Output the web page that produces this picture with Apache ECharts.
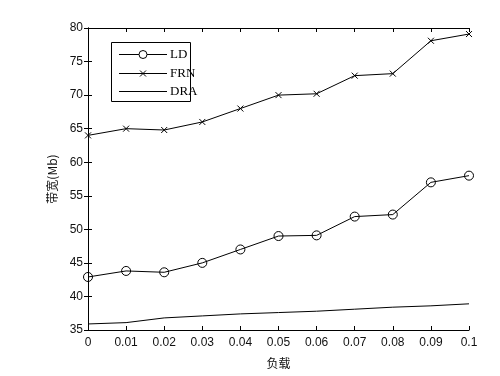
<!DOCTYPE html>
<html><head><meta charset="utf-8">
<script src="https://cdn.jsdelivr.net/npm/echarts@6/dist/echarts.min.js"></script>
<style>html,body{margin:0;padding:0;background:#fff}#c{width:500px;height:376px}</style>
</head><body><div id="c"></div>
<script>
const xValues = [0, 0.01, 0.02, 0.03, 0.04, 0.05, 0.06, 0.07, 0.08, 0.09, 0.1];
const ldValues = [42.9, 43.8, 43.6, 45.0, 47.0, 49.0, 49.1, 51.9, 52.2, 57.0, 58.0];
const frnValues = [64.0, 65.0, 64.8, 66.0, 68.0, 70.0, 70.2, 72.9, 73.2, 78.1, 79.1];
const draValues = [35.9, 36.1, 36.8, 37.1, 37.4, 37.6, 37.8, 38.1, 38.4, 38.6, 38.9];
const seriesNames = ['LD', 'FRN', 'DRA'];
const xName = '负载';
const yName = '带宽(Mb)';

const pairs = v => xValues.map((x, i) => [x, v[i]]);
const labelFont = {fontFamily: 'Liberation Sans', fontSize: 12, color: '#111'};
const chart = echarts.init(document.getElementById('c'), null, {renderer: 'canvas'});
const xMark = 'path://M0,0L10,10M10,0L0,10';
const stroke = {stroke: '#000', lineWidth: 1};
const lg = {x: 111, y: 42, w: 79, h: 59, lx1: 119, lx2: 167, tx: 170, rows: [54, 72.5, 91]};
const legendGraphics = [
  {type: 'rect', shape: {x: lg.x + 0.5, y: lg.y + 0.5, width: lg.w, height: lg.h}, style: {fill: '#fff', stroke: '#000', lineWidth: 1}, z: 100}
];
seriesNames.forEach((n, i) => {
  const y = Math.round(lg.rows[i]) + 0.5;
  legendGraphics.push({type: 'line', shape: {x1: lg.lx1, y1: y, x2: lg.lx2, y2: y}, style: stroke, z: 101});
  legendGraphics.push({type: 'text', x: lg.tx, y: y, style: {text: n, fill: '#000', font: '13px "Liberation Serif"', textVerticalAlign: 'middle'}, z: 101});
});
const cx = (lg.lx1 + lg.lx2) / 2;
legendGraphics.push({type: 'circle', shape: {cx: cx, cy: Math.round(lg.rows[0]) + 0.5, r: 4}, style: {fill: '#fff', stroke: '#000', lineWidth: 1}, z: 102});
const fy = Math.round(lg.rows[1]) + 0.5;
legendGraphics.push({type: 'polyline', shape: {points: [[cx - 3, fy - 3], [cx + 3, fy + 3]]}, style: stroke, z: 102});
legendGraphics.push({type: 'polyline', shape: {points: [[cx + 3, fy - 3], [cx - 3, fy + 3]]}, style: stroke, z: 102});

chart.setOption({
  animation: false,
  backgroundColor: '#fff',
  grid: {left: 88, right: 31, top: 28, bottom: 46},
  graphic: legendGraphics,
  xAxis: [{
    type: 'value', min: 0, max: 0.1, interval: 0.01, position: 'bottom',
    name: xName, nameLocation: 'middle', nameGap: 27,
    nameTextStyle: {fontFamily: 'Noto Sans CJK SC', fontSize: 12, color: '#111'},
    axisLine: {show: true, lineStyle: {color: '#000', width: 1}},
    axisTick: {inside: true, length: 4, lineStyle: {color: '#000'}},
    axisLabel: Object.assign({margin: 7}, labelFont),
    splitLine: {show: false}
  }, {
    type: 'value', min: 0, max: 0.1, interval: 0.01, position: 'top',
    axisLine: {show: true, lineStyle: {color: '#000', width: 1}},
    axisTick: {inside: true, length: 4, lineStyle: {color: '#000'}},
    axisLabel: {show: false}, splitLine: {show: false}
  }],
  yAxis: [{
    type: 'value', min: 35, max: 80, interval: 5, position: 'left',
    name: yName, nameLocation: 'middle', nameGap: 30,
    nameTextStyle: {fontFamily: 'Noto Sans CJK SC', fontSize: 12, color: '#111'},
    axisLine: {show: true, lineStyle: {color: '#000', width: 1}},
    axisTick: {inside: true, length: 4, lineStyle: {color: '#000'}},
    axisLabel: Object.assign({margin: 5}, labelFont),
    splitLine: {show: false}
  }, {
    type: 'value', min: 35, max: 80, interval: 5, position: 'right',
    axisLine: {show: true, lineStyle: {color: '#000', width: 1}},
    axisTick: {inside: true, length: 4, lineStyle: {color: '#000'}},
    axisLabel: {show: false}, splitLine: {show: false}
  }],
  series: [{
    name: seriesNames[0], type: 'line', data: pairs(ldValues),
    symbol: 'circle', symbolSize: 9,
    lineStyle: {color: '#000', width: 1},
    itemStyle: {color: 'rgba(255,255,255,0)', borderColor: '#000', borderWidth: 1}
  }, {
    name: seriesNames[1], type: 'line', data: pairs(frnValues),
    symbol: xMark, symbolSize: 6,
    lineStyle: {color: '#000', width: 1},
    itemStyle: {color: 'rgba(0,0,0,0)', borderColor: '#000', borderWidth: 1}
  }, {
    name: seriesNames[2], type: 'line', data: pairs(draValues),
    symbol: 'none', showSymbol: false,
    lineStyle: {color: '#000', width: 1},
    itemStyle: {color: '#000'}
  }]
});
</script></body></html>
